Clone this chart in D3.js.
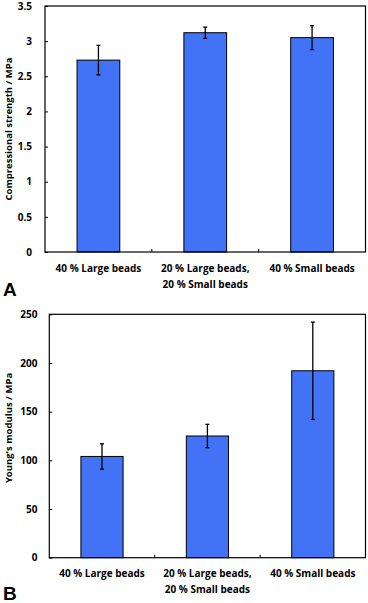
<!DOCTYPE html>
<html>
<head>
<meta charset="utf-8">
<script src="https://cdn.jsdelivr.net/npm/d3@7"></script>
<style>
    body { margin: 0; background: #fff; }
    svg { display: block; }
    text { font-family: "Open Sans", Lato, sans-serif; font-weight: bold; fill: #000; }
    .panel-label { font-family: "Liberation Sans", Arial, sans-serif; font-size: 19px; }
</style>
</head>
<body>
<svg id="chart" width="368" height="603"></svg>
<script>
    // categories shared by both panels
    const categories = ["40 % Large beads", "20 % Large beads,\n20 % Small beads", "40 % Small beads"];

    // panel A: compressional strength (MPa)
    const strengthValues = [2.73, 3.12, 3.05];
    const strengthErrors = [0.21, 0.08, 0.17];
    const strengthTicks = [0, 0.5, 1, 1.5, 2, 2.5, 3, 3.5];

    // panel B: Young's modulus (MPa)
    const modulusValues = [104, 125, 192];
    const modulusErrors = [13, 12, 50];
    const modulusTicks = [0, 50, 100, 150, 200, 250];

    const svg = d3.select("#chart");

    function drawPanel(opts) {
        const m = opts.box;
        const g = svg.append("g");

        const x = d3.scaleBand().domain(categories).range([m.left, m.right]);
        const y = d3.scaleLinear().domain([0, opts.max]).range([m.bottom, m.top]);
        const barW = x.bandwidth() * 0.4;

        // bars
        g.selectAll("rect.bar").data(opts.values).enter().append("rect")
            .attr("class", "bar")
            .attr("x", (d, i) => x(categories[i]) + (x.bandwidth() - barW) / 2)
            .attr("y", d => y(d))
            .attr("width", barW)
            .attr("height", d => y(0) - y(d))
            .attr("fill", "#4272f5")
            .attr("stroke", "#000")
            .attr("stroke-width", 1);

        // error bars
        const err = g.selectAll("g.err").data(opts.values).enter().append("g")
            .attr("class", "err")
            .attr("stroke", "#000")
            .attr("stroke-width", 1.3);
        err.append("line")
            .attr("x1", (d, i) => x(categories[i]) + x.bandwidth() / 2)
            .attr("x2", (d, i) => x(categories[i]) + x.bandwidth() / 2)
            .attr("y1", (d, i) => y(d + opts.errors[i]))
            .attr("y2", (d, i) => y(d - opts.errors[i]));
        [1, -1].forEach(s => {
            err.append("line")
                .attr("x1", (d, i) => x(categories[i]) + x.bandwidth() / 2 - 2)
                .attr("x2", (d, i) => x(categories[i]) + x.bandwidth() / 2 + 2)
                .attr("y1", (d, i) => y(d + s * opts.errors[i]))
                .attr("y2", (d, i) => y(d + s * opts.errors[i]));
        });

        // y axis: inside ticks
        const yAxis = g.append("g")
            .attr("transform", "translate(" + m.left + ",0)")
            .call(d3.axisRight(y).tickValues(opts.ticks).tickSize(3).tickFormat(d3.format("")));
        yAxis.select(".domain").remove();
        yAxis.selectAll("line").attr("stroke", "#000");
        yAxis.selectAll("text")
            .attr("x", opts.labelX - m.left)
            .attr("text-anchor", "end")
            .style("font-size", "10px");

        // x axis ticks between categories, pointing up
        g.selectAll("line.xtick").data(categories.slice(1)).enter().append("line")
            .attr("class", "xtick")
            .attr("x1", d => x(d)).attr("x2", d => x(d))
            .attr("y1", m.bottom).attr("y2", m.bottom - 3)
            .attr("stroke", "#000");

        // category labels
        g.selectAll("text.cat").data(categories).enter().append("text")
            .attr("class", "cat")
            .attr("text-anchor", "middle")
            .style("font-size", "10px")
            .attr("transform", d => "translate(" + (x(d) + x.bandwidth() / 2) + "," + (m.bottom + 19.5) + ")")
            .selectAll("tspan").data(d => d.split("\n")).enter().append("tspan")
            .attr("x", 0)
            .attr("dy", (d, i) => i ? 16 : 0)
            .text(d => d);

        // frame
        g.append("rect")
            .attr("x", m.left).attr("y", m.top)
            .attr("width", m.right - m.left).attr("height", m.bottom - m.top)
            .attr("fill", "none").attr("stroke", "#000").attr("stroke-width", 1.2);

        // y title
        g.append("text")
            .attr("transform", "translate(" + opts.titleX + "," + opts.titleY + ") rotate(-90)")
            .attr("text-anchor", "middle")
            .style("font-size", "9.5px")
            .text(opts.title);

        g.append("text")
            .attr("class", "panel-label")
            .attr("x", 3).attr("y", opts.letterY)
            .text(opts.letter);
    }

    drawPanel({
        box: {left: 45, right: 365.5, top: 6, bottom: 252},
        max: 3.5, values: strengthValues, errors: strengthErrors, ticks: strengthTicks,
        labelX: 32, title: "Compressional strength / MPa", titleX: 11.5, titleY: 129,
        letter: "A", letterY: 296
    });

    drawPanel({
        box: {left: 49.3, right: 365.5, top: 314.3, bottom: 557.7},
        max: 250, values: modulusValues, errors: modulusErrors, ticks: modulusTicks,
        labelX: 37.5, title: "Young's modulus / MPa", titleX: 11.5, titleY: 428,
        letter: "B", letterY: 599.5
    });
</script>
</body>
</html>
